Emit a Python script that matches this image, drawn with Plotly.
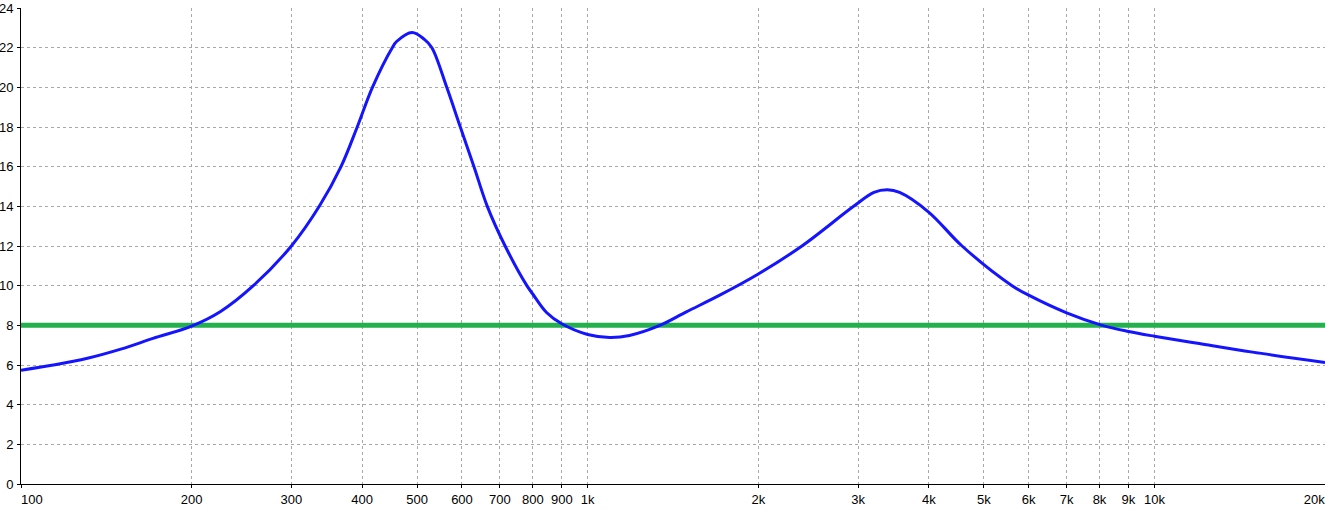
import plotly.graph_objects as go

# Frequency (Hz) and response values
freq = [100, 114, 131, 150, 171, 200, 225, 257, 300, 336, 367, 392, 417, 452, 460, 490,
        515, 531, 564, 596, 630, 665, 715, 781, 800, 846, 900, 1000, 1094, 1185,
        1334, 1493, 1710, 2000, 2388, 2946, 3200, 3378, 3551, 4000, 4577, 5608,
        6000, 7000, 8087, 9000, 10000, 12000, 14900, 20000]
resp = [5.74, 6.0, 6.34, 6.80, 7.34, 7.96, 8.7, 10.0, 12.0, 14.0, 16.0, 18.0, 20.0, 22.0,
        22.31, 22.77, 22.42, 22.0, 20.0, 18.0, 16.0, 14.0, 12.0, 10.0, 9.58, 8.65, 8.08,
        7.54, 7.39, 7.49, 7.97, 8.68, 9.52, 10.59, 12.0, 14.0, 14.70, 14.83, 14.70,
        13.7, 12.0, 10.0, 9.52, 8.63, 8.0, 7.69, 7.45, 7.08, 6.65, 6.13]
ref_level = [8, 8]
ref_freq = [100, 20000]

x_tickvals = [100, 200, 300, 400, 500, 600, 700, 800, 900, 1000, 2000, 3000, 4000,
              5000, 6000, 7000, 8000, 9000, 10000, 20000]
x_ticktext = ["\u00a0\u00a0\u00a0\u00a0\u00a0\u00a0100", "200", "300", "400", "500", "600",
              "700", "800", "900", "1k", "2k", "3k", "4k", "5k", "6k", "7k", "8k", "9k",
              "10k", "20k\u00a0\u00a0\u00a0\u00a0\u00a0\u00a0"]
y_tickvals = list(range(0, 25, 2))

fig = go.Figure()
fig.add_trace(go.Scatter(x=ref_freq, y=ref_level, mode="lines",
                         line=dict(color="#22B14C", width=5), hoverinfo="skip",
                         showlegend=False))
fig.add_trace(go.Scatter(x=freq, y=resp, mode="lines",
                         line=dict(color="#1414FF", width=3, shape="spline", smoothing=1.0),
                         showlegend=False))

font = dict(family="Liberation Sans Narrow, Arial Narrow, Liberation Sans, Arial", size=13,
            color="black")
fig.update_layout(
    width=1325, height=510,
    margin=dict(l=21, r=0, t=8, b=26),
    paper_bgcolor="white", plot_bgcolor="white",
    font=font,
    xaxis=dict(type="log", range=[2, 4.30103], tickvals=x_tickvals, ticktext=x_ticktext,
               showgrid=True, gridcolor="#A8A8A8", griddash="3px,3px", gridwidth=1,
               showline=True, linecolor="black", linewidth=1,
               ticks="outside", ticklen=3, tickcolor="black", tickangle=0,
               ticklabeloverflow="allow", zeroline=False, automargin=False),
    yaxis=dict(range=[0, 24], tickvals=y_tickvals,
               showgrid=True, gridcolor="#A8A8A8", griddash="3px,3px", gridwidth=1,
               showline=True, linecolor="black", linewidth=1,
               ticks="outside", ticklen=3, tickcolor="black", ticklabelstandoff=1,
               ticklabeloverflow="allow", zeroline=False, automargin=False),
)

fig.write_html("out.html", config={"displayModeBar": False},
               post_script="document.body.style.margin='0';document.body.style.overflow='hidden';")
